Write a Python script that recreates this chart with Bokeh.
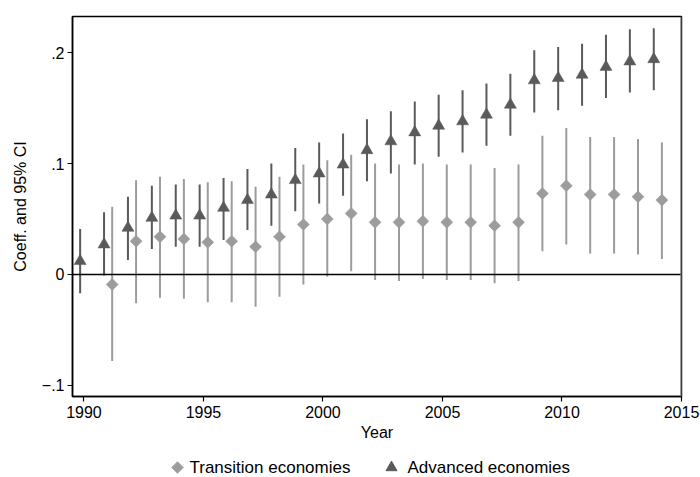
from bokeh.plotting import figure
from bokeh.layouts import column
from bokeh.models import (Range1d, FixedTicker, Span, ColumnDataSource,
                          CustomJSTickFormatter)
from bokeh.core.properties import value
from bokeh.transform import dodge
from bokeh.embed import file_html
from bokeh.resources import INLINE

# ---- data ----
adv_years = list(range(1990, 2015))
adv_coef = [0.012, 0.027, 0.042, 0.051, 0.053, 0.053, 0.060, 0.067, 0.072, 0.085,
            0.091, 0.099, 0.112, 0.120, 0.128, 0.134, 0.138, 0.144, 0.153, 0.175,
            0.177, 0.180, 0.187, 0.192, 0.194]
adv_lo = [-0.017, -0.001, 0.013, 0.023, 0.025, 0.025, 0.031, 0.040, 0.044, 0.057,
          0.064, 0.071, 0.084, 0.091, 0.099, 0.106, 0.110, 0.116, 0.125, 0.146,
          0.148, 0.152, 0.159, 0.164, 0.166]
adv_hi = [0.041, 0.056, 0.070, 0.080, 0.081, 0.081, 0.087, 0.095, 0.100, 0.114,
          0.119, 0.127, 0.140, 0.147, 0.156, 0.162, 0.166, 0.172, 0.181, 0.202,
          0.205, 0.208, 0.216, 0.221, 0.222]

trans_years = list(range(1991, 2015))
trans_coef = [-0.009, 0.030, 0.034, 0.032, 0.029, 0.030, 0.025, 0.034, 0.045, 0.050,
              0.055, 0.047, 0.047, 0.048, 0.047, 0.047, 0.044, 0.047, 0.073, 0.080,
              0.072, 0.072, 0.070, 0.067]
trans_lo = [-0.078, -0.026, -0.021, -0.022, -0.025, -0.025, -0.029, -0.020, -0.009, -0.002,
            0.003, -0.005, -0.006, -0.004, -0.005, -0.005, -0.008, -0.006, 0.021, 0.027,
            0.019, 0.019, 0.018, 0.014]
trans_hi = [0.061, 0.085, 0.088, 0.086, 0.083, 0.084, 0.079, 0.088, 0.099, 0.103,
            0.108, 0.100, 0.099, 0.100, 0.099, 0.099, 0.096, 0.099, 0.125, 0.132,
            0.124, 0.124, 0.122, 0.119]

x_ticks = [1990, 1995, 2000, 2005, 2010, 2015]
y_ticks = [-0.1, 0, 0.1, 0.2]
legend_labels = ["Transition economies", "Advanced economies"]

FONT = "Liberation Sans"
DARK = "#5a5a5a"
LIGHT = "#9c9c9c"

adv = ColumnDataSource(dict(year=adv_years, coef=adv_coef, lo=adv_lo, hi=adv_hi))
trans = ColumnDataSource(dict(year=trans_years, coef=trans_coef, lo=trans_lo, hi=trans_hi))

p = figure(width=700, height=447, output_backend="svg", toolbar_location=None,
           x_range=Range1d(1989.52, 2015), y_range=Range1d(-0.110, 0.2325),
           min_border_left=72, min_border_right=19, min_border_top=16,
           min_border_bottom=51)
p.background_fill_color = "white"
p.border_fill_color = "white"
p.grid.visible = False
p.outline_line_color = "black"
p.outline_line_width = 1.5

# zero line
p.add_layout(Span(location=0, dimension="width", line_color="black", line_width=1.5))

# CIs
p.segment(x0=dodge("year", -0.16), x1=dodge("year", -0.16), y0="lo", y1="hi",
          source=adv, line_color=DARK, line_width=2)
p.segment(x0=dodge("year", 0.18), x1=dodge("year", 0.18), y0="lo", y1="hi",
          source=trans, line_color=LIGHT, line_width=2)

p.scatter(x=dodge("year", -0.16), y="coef", source=adv, marker="triangle",
          size=12, fill_color=DARK, line_color=DARK, line_width=0.5)
p.scatter(x=dodge("year", 0.18), y="coef", source=trans, marker="square",
          angle=0.785398, size=8.5, fill_color=LIGHT, line_color=LIGHT, line_width=0.5)

# right edge in grey
p.add_layout(Span(location=2015, dimension="height", line_color="#7f7f7f", line_width=2))

# axes
for ax in (p.xaxis[0], p.yaxis[0]):
    ax.axis_line_width = 1.5
    ax.axis_line_color = "black"
    ax.major_tick_line_color = "black"
    ax.major_tick_line_width = 1.2
    ax.major_tick_out = 5
    ax.major_tick_in = 0
    ax.minor_tick_line_color = None
    ax.major_label_text_font = FONT
    ax.major_label_text_font_size = "16px"
    ax.major_label_text_color = "black"
    ax.axis_label_text_font = FONT
    ax.axis_label_text_font_size = "16px"
    ax.axis_label_text_font_style = "normal"
    ax.axis_label_text_color = "black"

p.xaxis.ticker = FixedTicker(ticks=x_ticks)
p.xaxis.axis_label = "Year"
p.xaxis.major_label_standoff = 4
p.xaxis.axis_label_standoff = 3

p.yaxis.ticker = FixedTicker(ticks=y_ticks)
p.yaxis.formatter = CustomJSTickFormatter(code="""
    if (Math.abs(tick) < 1e-9) return "0";
    const s = Math.abs(tick).toFixed(1).replace(/^0/, "");
    return (tick < 0 ? "\u2212" : "") + s;
""")
p.yaxis.major_label_orientation = "horizontal"
p.yaxis.axis_label = "Coeff. and 95% CI"
p.yaxis.major_label_standoff = 3
p.yaxis.axis_label_standoff = 10

# ---- legend strip (coordinates in page pixels, frame aligned with the plot) ----
lg = figure(width=700, height=30, output_backend="svg", toolbar_location=None,
            x_range=Range1d(72, 681), y_range=Range1d(0, 30),
            min_border_left=72, min_border_right=19,
            min_border_top=0, min_border_bottom=0)
lg.axis.visible = False
lg.grid.visible = False
lg.outline_line_color = None
lg.background_fill_color = "white"
lg.border_fill_color = "white"

lg.scatter(x=[177], y=[10], marker="square", angle=0.785398, size=8,
           fill_color=LIGHT, line_color=LIGHT)
lg.scatter(x=[391], y=[10], marker="triangle", size=11,
           fill_color=DARK, line_color=DARK)
lg.text(x=[189, 407], y=[10, 10], text=legend_labels,
        text_font=value(FONT), text_font_size="17px", text_color="black",
        text_baseline="middle", text_align="left")

layout = column(p, lg, spacing=0)

open("out.html", "w").write(file_html(layout, INLINE))
